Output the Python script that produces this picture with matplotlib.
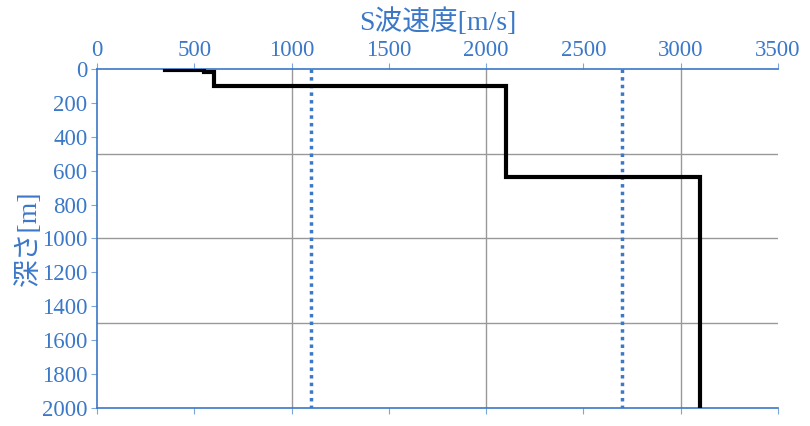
import matplotlib.pyplot as plt
from matplotlib.ticker import MultipleLocator

# S波速度構造（ステップ状）
vs_profile = [350, 550, 550, 600, 600, 2100, 2100, 3100, 3100]
depth_profile = [8, 8, 20, 20, 98, 98, 638, 638, 2000]

# 参考線（点線）
ref_vs = [1100, 2700]
ref_depth = [0, 2000]

blue = '#3b78c8'
plt.rcParams['font.family'] = ['Liberation Serif', 'Noto Sans CJK JP']

fig = plt.figure(figsize=(8.1, 4.26), dpi=100)
ax = fig.add_axes([0.1198, 0.0423, 0.8407, 0.7957])

ax.plot(vs_profile, depth_profile, color='black', lw=3, solid_joinstyle='miter', zorder=3)
for v in ref_vs:
    ax.plot([v, v], ref_depth, color=blue, lw=2.5, linestyle=(0, (1, 1.2)), zorder=2)

ax.set_xlim(0, 3500)
ax.set_ylim(2000, 0)

ax.xaxis.set_major_locator(MultipleLocator(500))
ax.yaxis.set_major_locator(MultipleLocator(200))
ax.xaxis.tick_top()
ax.xaxis.set_label_position('top')
ax.tick_params(axis='x', which='both', top=True, bottom=True, labeltop=True, labelbottom=False,
               direction='out', length=4, color='#7fa6da', labelcolor=blue, labelsize=16.5, pad=2)
ax.tick_params(axis='y', direction='out', length=4, color='#7fa6da', labelcolor=blue, labelsize=16.5, pad=3)

# グリッド
for gx in [1000, 2000, 3000]:
    ax.axvline(gx, color='#999999', lw=1, zorder=1)
for gy in [500, 1000, 1500]:
    ax.axhline(gy, color='#999999', lw=1, zorder=1)

for side in ['top', 'bottom', 'left']:
    ax.spines[side].set_color(blue)
    ax.spines[side].set_linewidth(1.2)
ax.spines['right'].set_visible(False)

ax.set_xlabel('S波速度[m/s]', color=blue, fontsize=20, labelpad=7)
ax.set_ylabel('深さ[m]', color=blue, fontsize=20, labelpad=0)

fig.savefig('out.png', dpi=100)
